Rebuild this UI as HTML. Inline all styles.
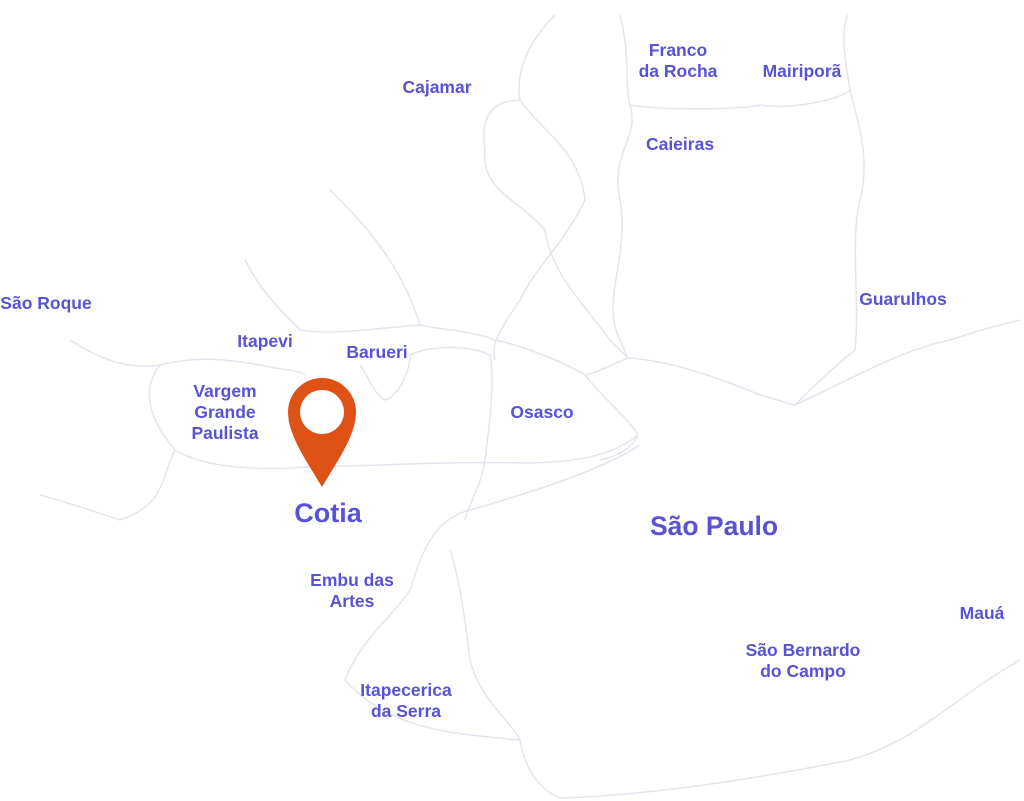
<!DOCTYPE html>
<html><head><style>
html,body{margin:0;padding:0;background:#fff;}
body{width:1024px;height:801px;position:relative;overflow:hidden;font-family:"Liberation Sans",sans-serif;}
.l{position:absolute;color:#5753d4;font-weight:bold;font-size:17.5px;line-height:21px;text-align:center;white-space:nowrap;}
svg{position:absolute;left:0;top:0;}
</style></head><body>
<svg width="1024" height="801">
<g fill="none" stroke="#e4e4ee" stroke-width="1.5">
<path d="M555 15 C530 40 515 70 520 100 C540 130 580 150 585 200 C560 250 540 260 520 300 C500 330 490 345 495 360"/>
<path d="M520 100 C490 100 480 120 485 150 C480 190 520 200 545 230 C550 270 580 300 610 340 C620 350 625 355 628 358"/>
<path d="M620 15 C630 50 625 90 630 105 C660 110 740 110 760 105 C790 110 840 100 850 90 C845 60 840 30 848 15"/>
<path d="M630 105 C640 140 610 150 620 200 C630 260 600 300 620 340 L628 358"/>
<path d="M850 90 C860 130 870 160 860 200 C850 240 860 300 855 350 C830 370 810 390 795 405 C850 380 900 350 950 340 C980 330 1000 325 1020 320"/>
<path d="M628 358 C660 360 700 370 760 395 C780 400 790 405 795 405"/>
<path d="M628 358 C600 370 590 375 585 375 C600 395 630 420 638 435 C630 450 620 455 600 460"/>
<path d="M330 190 C360 220 400 260 420 325 C440 330 470 330 495 340 C520 345 560 360 585 375"/>
<path d="M245 260 C260 290 280 310 300 330 C330 335 360 330 420 325"/>
<path d="M70 340 C100 360 130 370 160 365 C200 355 230 360 260 365 C280 370 300 370 305 375"/>
<path d="M160 365 C140 390 150 420 175 450 C160 480 165 505 120 520 C90 510 60 500 40 495"/>
<path d="M175 450 C200 465 240 470 290 468 C320 466 350 466 380 465 C430 463 480 462 530 463 C570 462 610 458 638 435"/>
<path d="M360 365 C370 380 375 395 385 400 C400 395 410 370 410 355 C430 345 470 345 490 355 C495 380 490 420 485 460 C480 490 470 500 465 520"/>
<path d="M640 445 C600 470 540 490 470 510 C430 520 420 560 410 590 C390 620 360 640 345 680"/>
<path d="M450 550 C460 580 465 620 470 660 C480 700 510 720 520 740 C525 770 540 790 560 798"/>
<path d="M560 798 C650 795 750 780 850 760 C920 740 950 700 1020 660"/>
<path d="M345 680 C380 720 430 730 470 735 C500 738 515 740 520 740"/>
</g>
<path d="M322 378 A34 34 0 0 1 356 412 C356 435 338 460 322 487 C306 460 288 435 288 412 A34 34 0 0 1 322 378 Z" fill="#de5215"/>
<circle cx="322" cy="412" r="22" fill="#fff"/>
</svg>
<div class="l" style="left:678px;top:40px;transform:translateX(-50%)">Franco<br>da Rocha</div>
<div class="l" style="left:802px;top:61px;transform:translateX(-50%)">Mairiporã</div>
<div class="l" style="left:437px;top:77px;transform:translateX(-50%)">Cajamar</div>
<div class="l" style="left:680px;top:134px;transform:translateX(-50%)">Caieiras</div>
<div class="l" style="left:903px;top:289px;transform:translateX(-50%)">Guarulhos</div>
<div class="l" style="left:46px;top:293px;transform:translateX(-50%)">São Roque</div>
<div class="l" style="left:265px;top:331px;transform:translateX(-50%)">Itapevi</div>
<div class="l" style="left:377px;top:342px;transform:translateX(-50%)">Barueri</div>
<div class="l" style="left:225px;top:381px;transform:translateX(-50%)">Vargem<br>Grande<br>Paulista</div>
<div class="l" style="left:542px;top:402px;transform:translateX(-50%)">Osasco</div>
<div class="l" style="left:328px;top:498px;transform:translateX(-50%);font-size:27px;line-height:30px">Cotia</div>
<div class="l" style="left:714px;top:511px;transform:translateX(-50%);font-size:26.5px;line-height:30px">São Paulo</div>
<div class="l" style="left:352px;top:570px;transform:translateX(-50%)">Embu das<br>Artes</div>
<div class="l" style="left:982px;top:603px;transform:translateX(-50%)">Mauá</div>
<div class="l" style="left:803px;top:640px;transform:translateX(-50%)">São Bernardo<br>do Campo</div>
<div class="l" style="left:406px;top:680px;transform:translateX(-50%)">Itapecerica<br>da Serra</div>
</body></html>
